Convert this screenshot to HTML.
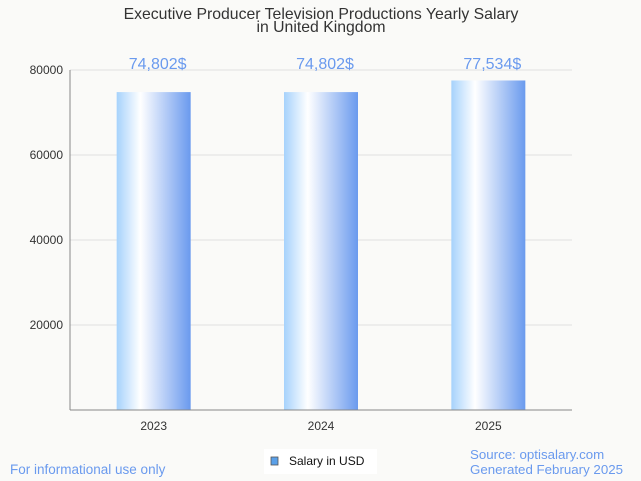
<!DOCTYPE html>
<html><head><meta charset="utf-8"><style>
body{margin:0;background:#fafaf8;font-family:"Liberation Sans",sans-serif}
svg{display:block}
</style></head><body>
<svg id="c" width="641" height="481" xmlns="http://www.w3.org/2000/svg">
<defs><linearGradient id="g" x1="0" x2="1" y1="0" y2="0">
<stop offset="0" stop-color="#a6d2fc"/><stop offset="0.32" stop-color="#ffffff"/><stop offset="1" stop-color="#6a9aee"/></linearGradient></defs>
<rect width="641" height="481" fill="#fafaf8"/>
<text x="321" y="19" text-anchor="middle" font-size="15.8" fill="#333">Executive Producer Television Productions Yearly Salary</text>
<text x="321" y="32" text-anchor="middle" font-size="15.8" fill="#333">in United Kingdom</text>
<g id="grid"></g><g id="bars"></g>
<line x1="70" y1="70" x2="70" y2="410" stroke="#888"/>
<line x1="70" y1="410" x2="572" y2="410" stroke="#888"/>
<rect x="264" y="449" width="113" height="25" fill="#fff"/>
<rect x="271" y="457" width="7" height="8" fill="#5aa0e8" stroke="#555" stroke-width="0.8"/>
<text x="289" y="465" font-size="12" fill="#111">Salary in USD</text>
<text x="10" y="474" font-size="13.5" fill="#6a9aee">For informational use only</text>
<text x="470" y="459" font-size="13.3" fill="#6a9aee">Source: optisalary.com</text>
<text x="470" y="474" font-size="13.3" fill="#6a9aee">Generated February 2025</text>
</svg>
<script>
const categories=["2023","2024","2025"];
const values=[74802,74802,77534];
const valueLabels=["74,802$","74,802$","77,534$"];
const yTicks=[20000,40000,60000,80000];
const NS="http://www.w3.org/2000/svg";
const x0=70,x1=572,yTop=70,yBot=410,yMax=80000;
const y=v=>yBot-(v/yMax)*(yBot-yTop);
const band=(x1-x0)/categories.length;
const xc=i=>x0+band*(i+0.5);
function mk(t,a,p){const e=document.createElementNS(NS,t);for(const k in a)e.setAttribute(k,a[k]);p.appendChild(e);return e;}
const grid=document.getElementById('grid'),bars=document.getElementById('bars');
yTicks.forEach(v=>{
 const l=mk('line',{x1:x0,x2:x1,y1:y(v),y2:y(v),stroke:'#e0e0e0'},grid);
 
 
 const t=mk('text',{x:x0-7,y:y(v)+4,'text-anchor':'end','font-size':12,fill:'#333'},grid);
 t.textContent=v;
 
 
});
categories.forEach((c,i)=>{
 const w=74;
 const r=mk('rect',{x:xc(i)-w/2,y:y(values[i]),width:w,height:yBot-y(values[i]),fill:'url(#g)'},bars);
 
 
 const t=mk('text',{x:xc(i)+4,y:y(80000)-1,'text-anchor':'middle','font-size':16,fill:'#6a9aee'},bars);
 t.textContent=valueLabels[i];
 
 
 const xl=mk('text',{x:xc(i),y:430,'text-anchor':'middle','font-size':12,fill:'#333'},bars);
 xl.textContent=c;
 
 
});
</script>
</body></html>
